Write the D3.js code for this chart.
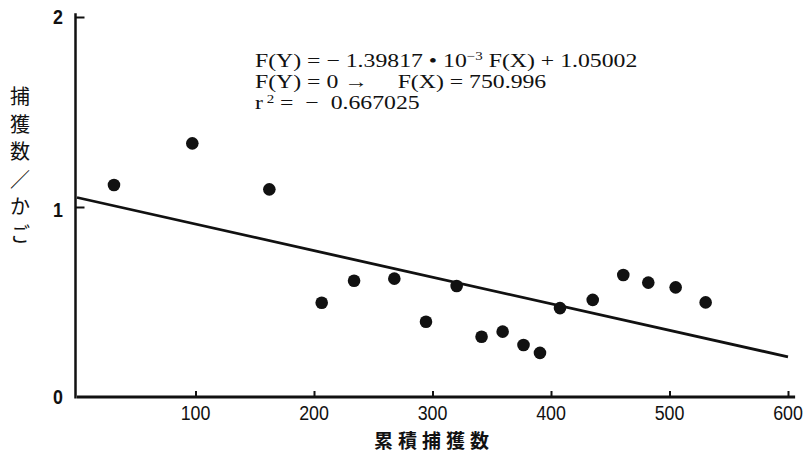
<!DOCTYPE html>
<html>
<head>
<meta charset="utf-8">
<script src="https://cdn.jsdelivr.net/npm/d3@7"></script>
<style>
  html, body { margin: 0; padding: 0; background: #fff; }
  svg { display: block; }
  .tick-label { font-family: "Liberation Sans", Arial, sans-serif; font-size: 21px; fill: #111; }
  .eq { font-family: "Liberation Serif", "Times New Roman", serif; font-size: 19px; fill: #111; }
  .jp { font-family: "Noto Sans CJK JP", sans-serif; fill: #111; }
</style>
</head>
<body>
<svg id="chart" width="809" height="456"></svg>
<script>
// Cumulative catch (x) vs catch per trap (y)
const cumulativeCatch = [31.2, 97.3, 162.3, 206.5, 233.8, 267.8, 294.5, 320.4, 341.4, 359.2, 376.8, 390.7, 407.6, 435.2, 461.0, 482.1, 505.2, 530.5];
const catchPerTrap    = [1.116, 1.335, 1.093, 0.496, 0.612, 0.623, 0.396, 0.584, 0.317, 0.344, 0.274, 0.232, 0.468, 0.511, 0.642, 0.602, 0.577, 0.498];

// Fitted regression F(Y) = a·F(X) + b
const slope = -1.39817e-3;
const intercept = 1.05002;

const xTicks = [100, 200, 300, 400, 500, 600];
const yTicks = [0, 1, 2];
const yTitleChars = ["捕", "獲", "数", "／", "か", "ご"];
const xTitle = "累積捕獲数";

const svg = d3.select("#chart");
const x = d3.scaleLinear().domain([0, 600]).range([77, 788]);
const y = d3.scaleLinear().domain([0, 2]).range([397, 17]);

// Axes lines
svg.append("line")
  .attr("x1", x(0)).attr("x2", x(606))
  .attr("y1", y(0)).attr("y2", y(0))
  .attr("stroke", "#111").attr("stroke-width", 3);
svg.append("line")
  .attr("x1", x(0) - 1.5).attr("x2", x(0) - 1.5)
  .attr("y1", y(0) + 1.5).attr("y2", y(2.02))
  .attr("stroke", "#111").attr("stroke-width", 2.5);

// X ticks (pointing inward) and labels
const xAxis = d3.axisBottom(x).tickValues(xTicks).tickSize(-6).tickSizeOuter(0).tickFormat("");
const gx = svg.append("g").attr("transform", `translate(0,${y(0)})`).call(xAxis);
gx.select(".domain").remove();
gx.selectAll(".tick line").attr("stroke", "#111").attr("stroke-width", 2);

svg.append("g").selectAll("text").data(xTicks).join("text")
  .attr("class", "tick-label")
  .attr("text-anchor", "middle")
  .attr("transform", d => `translate(${x(d)},420) scale(0.85,1)`)
  .text(d => d);

// Y ticks (pointing inward) and labels
const yAxis = d3.axisLeft(y).tickValues([1, 2]).tickSize(-9).tickSizeOuter(0).tickFormat("");
const gy = svg.append("g").attr("transform", `translate(${x(0) - 1.5},0)`).call(yAxis);
gy.select(".domain").remove();
gy.selectAll(".tick line").attr("stroke", "#111").attr("stroke-width", 2);

svg.append("g").selectAll("text").data(yTicks).join("text")
  .attr("class", "tick-label")
  .attr("text-anchor", "end")
  .attr("font-weight", "bold")
  .attr("transform", d => `translate(63,${y(d) + (d === 1 ? 10 : 7)}) scale(0.85,1)`)
  .text(d => d);

// Regression line
svg.append("line")
  .attr("x1", x(0)).attr("y1", y(intercept))
  .attr("x2", x(600)).attr("y2", y(intercept + slope * 600))
  .attr("stroke", "#111").attr("stroke-width", 2.8);

// Observations
const pts = cumulativeCatch.map((v, i) => ({ cx: v, cy: catchPerTrap[i] }));
svg.append("g").selectAll("circle").data(pts).join("circle")
  .attr("cx", d => x(d.cx)).attr("cy", d => y(d.cy))
  .attr("r", 6.3).attr("fill", "#111");

// Regression equation (wide serif setting)
const eq = svg.append("g").attr("class", "eq")
  .attr("transform", "translate(255,0) scale(1.25,1)");
const l1 = eq.append("text").attr("x", 0).attr("y", 67).attr("xml:space", "preserve");
l1.append("tspan").text("F(Y) = − 1.39817 • 10");
l1.append("tspan").attr("font-size", "12px").attr("dy", -7).text("−3");
l1.append("tspan").attr("dy", 7).text(" F(X) + 1.05002");
eq.append("text").attr("x", 0).attr("y", 88)
  .attr("xml:space", "preserve")
  .text("F(Y) = 0 →     F(X) = 750.996");
const l3 = eq.append("text").attr("x", 0).attr("y", 109).attr("xml:space", "preserve");
l3.append("tspan").text("r");
l3.append("tspan").attr("font-size", "12px").attr("dy", -6).text(" 2");
l3.append("tspan").attr("dy", 6).text(" =  −  0.667025");

// Axis titles
svg.append("g").selectAll("text").data(yTitleChars).join("text")
  .attr("class", "jp")
  .attr("font-size", "20px")
  .attr("text-anchor", "middle")
  .attr("x", 20)
  .attr("y", (d, i) => 104 + i * 27.5)
  .text(d => d);

svg.append("text")
  .attr("class", "jp")
  .attr("font-size", "19px")
  .attr("font-weight", "bold")
  .attr("letter-spacing", "5px")
  .attr("text-anchor", "middle")
  .attr("x", 434).attr("y", 448)
  .text(xTitle);
</script>
</body>
</html>
